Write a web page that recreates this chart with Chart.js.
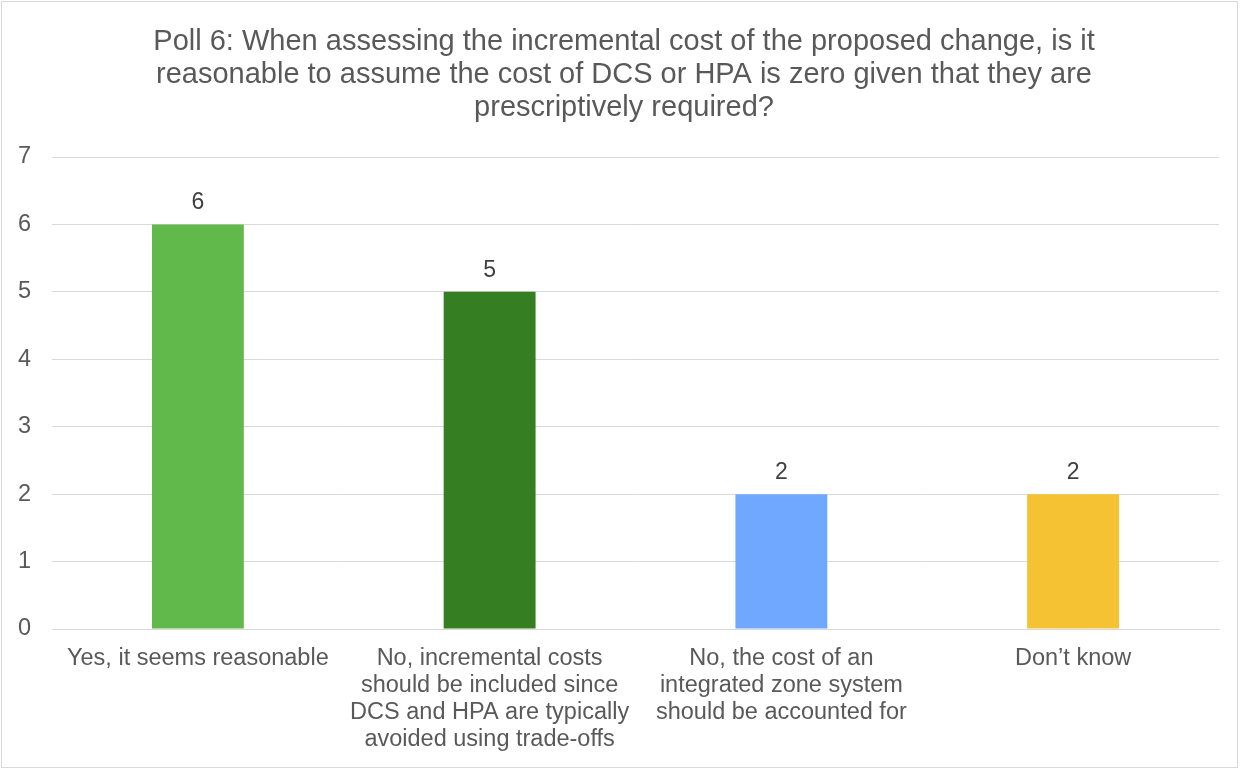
<!DOCTYPE html>
<html>
<head>
<meta charset="utf-8">
<script src="https://cdn.jsdelivr.net/npm/chart.js@4/dist/chart.umd.min.js"></script>
<style>
html,body{margin:0;padding:0;background:#fff;}
#wrap{width:1249px;height:769px;position:relative;}
</style>
</head>
<body>
<div id="wrap"><canvas id="c" width="1249" height="769"></canvas></div>
<script>
const titleLines = [
  "Poll 6: When assessing the incremental cost of the proposed change, is it",
  "reasonable to assume the cost of DCS or HPA is zero given that they are",
  "prescriptively required?"
];
const categories = [
  ["Yes, it seems reasonable"],
  ["No, incremental costs", "should be included since", "DCS and HPA are typically", "avoided using trade-offs"],
  ["No, the cost of an", "integrated zone system", "should be accounted for"],
  ["Don\u2019t know"]
];
const votes = [6, 5, 2, 2];
const barColors = ["#62B94B", "#367E22", "#6FA8FE", "#F5C233"];
const yTicks = [0, 1, 2, 3, 4, 5, 6, 7];

const FONT = "'Liberation Sans', Arial, sans-serif";
const TEXT = "#595959";

const titlePlugin = {
  id: 'titleText',
  afterDraw(chart) {
    const ctx = chart.ctx;
    ctx.save();
    ctx.font = "29px " + FONT;
    ctx.fillStyle = TEXT;
    ctx.textAlign = "center";
    ctx.textBaseline = "alphabetic";
    titleLines.forEach((t, i) => ctx.fillText(t, 624, 50 + i * 33));
    ctx.restore();
  }
};
const valueLabels = {
  id: 'valueLabels',
  afterDatasetsDraw(chart) {
    const ctx = chart.ctx;
    const meta = chart.getDatasetMeta(0);
    ctx.save();
    ctx.font = "23px " + FONT;
    ctx.fillStyle = "#404040";
    ctx.textAlign = "center";
    ctx.textBaseline = "alphabetic";
    meta.data.forEach((el, i) => {
      ctx.fillText(String(chart.data.datasets[0].data[i]), el.x, el.y - 15);
    });
    ctx.restore();
  }
};
const frame = {
  id: 'frame',
  afterDraw(chart) {
    const ctx = chart.ctx;
    ctx.save();
    ctx.strokeStyle = "#d9d9d9";
    ctx.lineWidth = 1;
    ctx.strokeRect(1.5, 1.5, 1236, 766);
    ctx.restore();
  }
};

new Chart(document.getElementById('c'), {
  type: 'bar',
  data: {
    labels: categories,
    datasets: [{
      data: votes,
      backgroundColor: barColors,
      borderWidth: 0,
      barPercentage: 0.63,
      categoryPercentage: 0.5
    }]
  },
  options: {
    responsive: false,
    animation: false,
    layout: { padding: { left: 0, right: 30, top: 157, bottom: 0 } },
    plugins: {
      legend: { display: false },
      tooltip: { enabled: false },
      title: { display: false }
    },
    scales: {
      x: {
        afterFit(scale) { scale.height = 140; },
        grid: { display: false, drawTicks: false },
        border: { display: true, color: "#d9d9d9", width: 1 },
        ticks: {
          color: TEXT, font: { family: FONT, size: 23.5, lineHeight: 1.15 },
          padding: 16, maxRotation: 0, autoSkip: false
        }
      },
      y: {
        min: 0, max: 7,
        afterFit(scale) { scale.width = 52; },
        afterBuildTicks(scale) { scale.ticks = yTicks.map(v => ({ value: v })); },
        grid: { color: "#d9d9d9", drawTicks: false, lineWidth: 1 },
        border: { display: false },
        ticks: { color: TEXT, font: { family: FONT, size: 23.5 }, padding: 21 }
      }
    }
  },
  plugins: [titlePlugin, valueLabels, frame]
});
</script>
</body>
</html>
